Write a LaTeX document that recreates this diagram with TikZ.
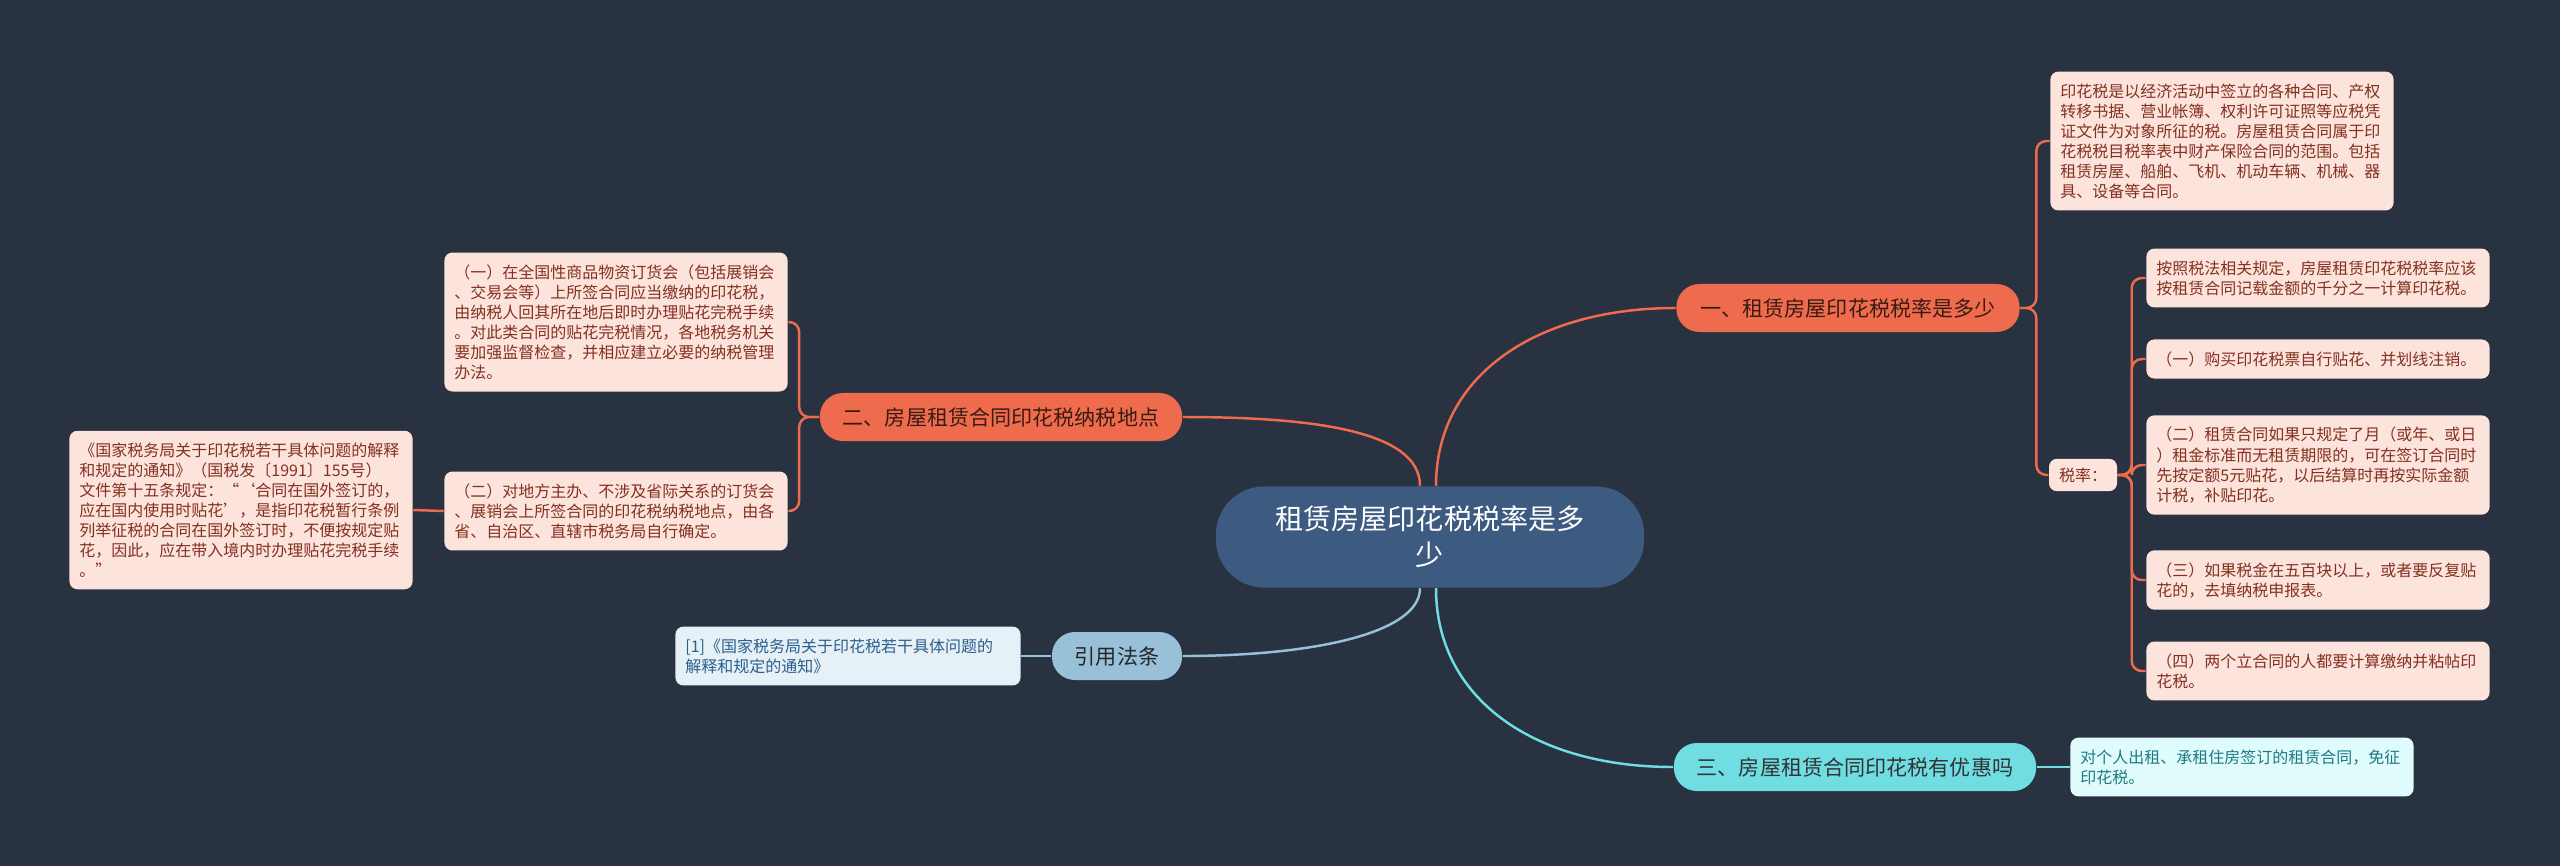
\documentclass[tikz,border=0pt]{standalone}
\usepackage{fontspec}
\newfontfamily\cjk{Noto Sans CJK SC}
\definecolor{bgnavy}{HTML}{293241}
\definecolor{hubblue}{HTML}{3D5A80}
\definecolor{accent}{HTML}{EE6C4D}
\definecolor{leafpink}{HTML}{FCE4DD}
\definecolor{leafred}{HTML}{84301F}
\definecolor{topicink}{HTML}{3A1B12}
\definecolor{cyanfill}{HTML}{70DDE3}
\definecolor{cyanleaf}{HTML}{E0FBFC}
\definecolor{cyanink}{HTML}{1C7A80}
\definecolor{citeblue}{HTML}{98C1D9}
\definecolor{citeleaf}{HTML}{E6F0F7}
\definecolor{citeink}{HTML}{2C5F8C}

\begin{document}
\begin{tikzpicture}[x=0.01cm, y=-0.01cm,
	every node/.style={font=\cjk},
	hub/.style={fill=hubblue, text=white, rounded corners=0.48cm, minimum width=4.28cm, minimum height=1.01cm, align=center, font={\cjk\fontsize{8}{10.2}\selectfont}},
	topic/.style={fill=#1, rounded corners=0.23cm, minimum height=0.48cm, font={\cjk\fontsize{6}{7}\selectfont}},
	leaf/.style={fill=leafpink, text=leafred, rounded corners=0.08cm, text width=3.23cm, inner xsep=0.1cm, inner ysep=3.4pt, align=left, font={\cjk\fontsize{4.55}{5.69}\selectfont}},
	branch/.style={draw=#1, line width=0.7pt}]
	\fill[bgnavy] (0,0) rectangle (2560,866);
	\useasboundingbox (0,0) rectangle (2560,866);

	\node[hub] (hub) at (1430,537) {租赁房屋印花税税率是多\\少};

	% right side
	\node[topic=accent, text=topicink, minimum width=3.43cm] (t1) at (1848,308) {一、租赁房屋印花税税率是多少};
	\node[leaf] (a1) at (2222,141) {印花税是以经济活动中签立的各种合同、产权\\转移书据、营业帐簿、权利许可证照等应税凭\\证文件为对象所征的税。房屋租赁合同属于印\\花税税目税率表中财产保险合同的范围。包括\\租赁房屋、船舶、飞机、机动车辆、机械、器\\具、设备等合同。};
	\node[fill=leafpink, text=leafred, rounded corners=0.08cm, inner xsep=0.1cm, inner ysep=2.5pt, font={\cjk\fontsize{4.55}{5.69}\selectfont}] (rate) at (2083,475) {税率：};
	\node[leaf] (r0) at (2318,278) {按照税法相关规定，房屋租赁印花税税率应该\\按租赁合同记载金额的千分之一计算印花税。};
	\node[leaf] (r1) at (2318,359) {（一）购买印花税票自行贴花、并划线注销。};
	\node[leaf] (r2) at (2318,465) {（二）租赁合同如果只规定了月（或年、或日\\）租金标准而无租赁期限的，可在签订合同时\\先按定额5元贴花，以后结算时再按实际金额\\计税，补贴印花。};
	\node[leaf] (r3) at (2318,580) {（三）如果税金在五百块以上，或者要反复贴\\花的，去填纳税申报表。};
	\node[leaf] (r4) at (2318,671) {（四）两个立合同的人都要计算缴纳并粘帖印\\花税。};

	\node[topic=cyanfill, text=black!80, minimum width=3.62cm] (t3) at (1855,767) {三、房屋租赁合同印花税有优惠吗};
	\node[leaf, fill=cyanleaf, text=cyanink] (t3leaf) at (2242,767) {对个人出租、承租住房签订的租赁合同，免征\\印花税。};

	% left side
	\node[topic=accent, text=topicink, minimum width=3.62cm] (t2) at (1001,417) {二、房屋租赁合同印花税纳税地点};
	\node[leaf] (l1) at (616,322) {（一）在全国性商品物资订货会（包括展销会\\、交易会等）上所签合同应当缴纳的印花税，\\由纳税人回其所在地后即时办理贴花完税手续\\。对此类合同的贴花完税情况，各地税务机关\\要加强监督检查，并相应建立必要的纳税管理\\办法。};
	\node[leaf] (l2) at (616,511) {（二）对地方主办、不涉及省际关系的订货会\\、展销会上所签合同的印花税纳税地点，由各\\省、自治区、直辖市税务局自行确定。};
	\node[leaf] (far) at (241,510) {《国家税务局关于印花税若干具体问题的解释\\和规定的通知》（国税发〔1991〕155号）\\文件第十五条规定：“‘合同在国外签订的，\\应在国内使用时贴花’，是指印花税暂行条例\\列举征税的合同在国外签订时，不便按规定贴\\花，因此，应在带入境内时办理贴花完税手续\\。”};

	\node[topic=citeblue, text=black!85, minimum width=1.30cm] (cite) at (1117,656) {引用法条};
	\node[leaf, fill=citeleaf, text=citeink, text width=3.25cm] (citeleaf) at (848,656) {[1]《国家税务局关于印花税若干具体问题的\\解释和规定的通知》};

	% connectors
	\draw[branch=accent] ([xshift=0.06cm]hub.north) .. controls +(0,-110) and +(-140,0) .. (t1.west);
	\draw[branch=accent] ([xshift=-0.1cm]hub.north) .. controls +(0,-55) and +(130,0) .. (t2.east);
	\draw[branch=cyanfill] ([xshift=0.06cm]hub.south) .. controls +(0,110) and +(-140,0) .. (t3.west);
	\draw[branch=citeblue] ([xshift=-0.1cm]hub.south) .. controls +(0,45) and +(130,0) .. (cite.east);

	\foreach \n in {a1,rate}
		\draw[branch=accent, rounded corners=0.1cm] (t1.east) -- ++(16,0) |- (\n.west);
	\foreach \n in {r0,r1,r2,r3,r4}
		\draw[branch=accent, rounded corners=0.1cm] (rate.east) -- ++(14,0) |- (\n.west);
	\foreach \n in {l1,l2}
		\draw[branch=accent, rounded corners=0.1cm] (t2.west) -- ++(-20,0) |- (\n.east);
	\draw[branch=accent] (l2.west) -- (far.east);
	\draw[branch=cyanfill] (t3.east) -- (t3leaf.west);
	\draw[branch=citeblue] (cite.west) -- (citeleaf.east);
\end{tikzpicture}
\end{document}
